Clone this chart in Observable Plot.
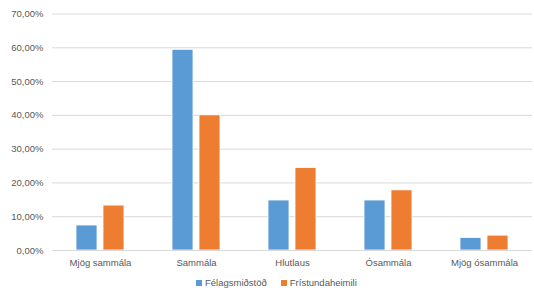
<!DOCTYPE html>
<html><head><meta charset="utf-8">
<script src="https://cdn.jsdelivr.net/npm/d3@7"></script>
<script src="https://cdn.jsdelivr.net/npm/@observablehq/plot@0.6"></script>
<style>
body{margin:0;background:#fff;font-family:"Liberation Sans",Arial,sans-serif;}
#wrap{position:relative;width:534px;height:291px;}
#legend{position:absolute;top:277px;left:196px;display:flex;align-items:center;font-size:9.5px;color:#595959;white-space:nowrap;}
#legend span.sw{display:inline-block;width:6px;height:6px;margin-right:3px;}
#legend .item{display:flex;align-items:center;margin-right:14px;}
</style></head>
<body><div id="wrap"><div id="chart"></div><div id="legend"></div></div>
<script>
const categories = ["Mjög sammála","Sammála","Hlutlaus","Ósammála","Mjög ósammála"];
const series = ["Félagsmiðstöð","Frístundaheimili"];
const felagsmidstod = [7.4, 59.4, 14.8, 14.8, 3.7];
const fristundaheimili = [13.3, 40.0, 24.4, 17.8, 4.4];
const yTicks = [0,10,20,30,40,50,60,70];
const colors = ["#5B9BD5","#ED7D31"];

const data = [];
categories.forEach((c,i)=>{
  data.push({cat:c, s:series[0], v:felagsmidstod[i]});
  data.push({cat:c, s:series[1], v:fristundaheimili[i]});
});
const fmt = d => d.toFixed(2).replace(".",",") + "%";

const chart = Plot.plot({
  width:534, height:270,
  marginLeft:52, marginRight:2, marginTop:13.5, marginBottom:20,
  style:{fontFamily:"Liberation Sans, Arial, sans-serif", fontSize:"9.5px", color:"#595959", background:"#fff"},
  fx:{domain:categories, padding:0, label:null, axis:"bottom", tickSize:0, tickPadding:9},
  x:{domain:series, axis:null, paddingInner:0.22, paddingOuter:0.85},
  y:{domain:[0,70], ticks:yTicks, label:null},
  color:{domain:series, range:colors},
  marks:[
    Plot.gridY(yTicks, {stroke:"#d9d9d9", strokeOpacity:1, strokeWidth:1}),
    Plot.axisY(yTicks, {tickSize:0, tickPadding:9, tickFormat:fmt, label:null, fill:"#595959"}),
    Plot.barY(data, {fx:"cat", x:"s", y:"v", fill:"s", stroke:"white", strokeWidth:0.8}),
    Plot.ruleY([0], {stroke:"#d9d9d9", strokeWidth:1})
  ]
});
document.getElementById("chart").appendChild(chart);

const leg = document.getElementById("legend");
series.forEach((s,i)=>{
  const it = document.createElement("div"); it.className="item";
  const sw = document.createElement("span"); sw.className="sw"; sw.style.background=colors[i];
  it.appendChild(sw); it.appendChild(document.createTextNode(s)); leg.appendChild(it);
});
</script></body></html>
